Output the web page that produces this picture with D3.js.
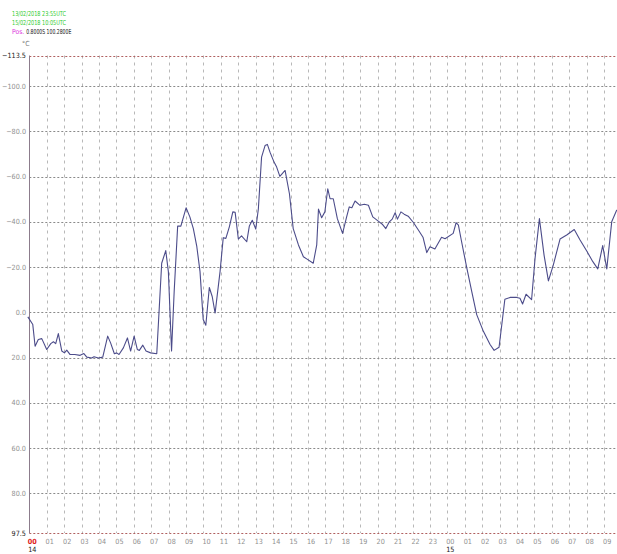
<!DOCTYPE html>
<html>
<head>
<meta charset="utf-8">
<script src="https://cdn.jsdelivr.net/npm/d3@7"></script>
<style>
  html, body { margin: 0; padding: 0; background: #ffffff; }
  svg { display: block; }
  text { font-family: "Liberation Sans Narrow", "DejaVu Sans Condensed", sans-serif; }
</style>
</head>
<body>
<svg id="chart" width="617" height="554"></svg>
<script>
// Header text
const headerLines = ["13/02/2018 23:55UTC", "15/02/2018 10:05UTC"];
const posLabel = "Pos.";
const posValue = "0.8000S 100.2800E";
const unitLabel = "\u00B0C";

// Observation times (UTC) and temperature readings
const times = [
  "2018-02-13T23:55", "2018-02-14T00:12", "2018-02-14T00:20", "2018-02-14T00:31", "2018-02-14T00:43",
  "2018-02-14T01:00", "2018-02-14T01:14", "2018-02-14T01:23", "2018-02-14T01:31", "2018-02-14T01:40",
  "2018-02-14T01:52", "2018-02-14T02:01", "2018-02-14T02:09", "2018-02-14T02:20", "2018-02-14T02:37",
  "2018-02-14T02:55", "2018-02-14T03:08", "2018-02-14T03:18", "2018-02-14T03:35", "2018-02-14T03:43",
  "2018-02-14T03:58", "2018-02-14T04:13", "2018-02-14T04:30", "2018-02-14T04:40", "2018-02-14T04:53",
  "2018-02-14T05:01", "2018-02-14T05:09", "2018-02-14T05:24", "2018-02-14T05:38", "2018-02-14T05:49",
  "2018-02-14T06:01", "2018-02-14T06:12", "2018-02-14T06:19", "2018-02-14T06:31", "2018-02-14T06:42",
  "2018-02-14T06:58", "2018-02-14T07:19", "2018-02-14T07:36", "2018-02-14T07:50", "2018-02-14T07:59",
  "2018-02-14T08:10", "2018-02-14T08:19", "2018-02-14T08:31", "2018-02-14T08:42", "2018-02-14T09:00",
  "2018-02-14T09:13", "2018-02-14T09:25", "2018-02-14T09:37", "2018-02-14T09:48", "2018-02-14T09:59",
  "2018-02-14T10:08", "2018-02-14T10:20", "2018-02-14T10:30", "2018-02-14T10:40", "2018-02-14T10:57",
  "2018-02-14T11:08", "2018-02-14T11:17", "2018-02-14T11:29", "2018-02-14T11:41", "2018-02-14T11:49",
  "2018-02-14T12:00", "2018-02-14T12:11", "2018-02-14T12:29", "2018-02-14T12:38", "2018-02-14T12:48",
  "2018-02-14T13:00", "2018-02-14T13:09", "2018-02-14T13:20", "2018-02-14T13:32", "2018-02-14T13:40",
  "2018-02-14T13:49", "2018-02-14T14:03", "2018-02-14T14:12", "2018-02-14T14:23", "2018-02-14T14:41",
  "2018-02-14T14:56", "2018-02-14T15:09", "2018-02-14T15:27", "2018-02-14T15:44", "2018-02-14T15:58",
  "2018-02-14T16:18", "2018-02-14T16:30", "2018-02-14T16:36", "2018-02-14T16:47", "2018-02-14T16:58",
  "2018-02-14T17:08", "2018-02-14T17:16", "2018-02-14T17:27", "2018-02-14T17:41", "2018-02-14T17:59",
  "2018-02-14T18:13", "2018-02-14T18:22", "2018-02-14T18:31", "2018-02-14T18:42", "2018-02-14T18:59",
  "2018-02-14T19:14", "2018-02-14T19:28", "2018-02-14T19:43", "2018-02-14T20:02", "2018-02-14T20:17",
  "2018-02-14T20:28", "2018-02-14T20:40", "2018-02-14T20:50", "2018-02-14T21:00", "2018-02-14T21:08",
  "2018-02-14T21:20", "2018-02-14T21:31", "2018-02-14T21:45", "2018-02-14T22:03", "2018-02-14T22:20",
  "2018-02-14T22:36", "2018-02-14T22:49", "2018-02-14T23:00", "2018-02-14T23:17", "2018-02-14T23:40",
  "2018-02-14T23:52", "2018-02-15T00:20", "2018-02-15T00:30", "2018-02-15T00:38", "2018-02-15T00:49",
  "2018-02-15T01:07", "2018-02-15T01:24", "2018-02-15T01:41", "2018-02-15T02:04", "2018-02-15T02:27",
  "2018-02-15T02:41", "2018-02-15T02:58", "2018-02-15T03:18", "2018-02-15T03:36", "2018-02-15T03:59",
  "2018-02-15T04:10", "2018-02-15T04:19", "2018-02-15T04:31", "2018-02-15T04:50", "2018-02-15T05:02",
  "2018-02-15T05:17", "2018-02-15T05:33", "2018-02-15T05:48", "2018-02-15T06:05", "2018-02-15T06:28",
  "2018-02-15T06:51", "2018-02-15T07:17", "2018-02-15T07:37", "2018-02-15T08:00", "2018-02-15T08:21",
  "2018-02-15T08:38", "2018-02-15T08:55", "2018-02-15T09:09", "2018-02-15T09:26", "2018-02-15T09:43",
  "2018-02-15T10:05"
];
const values = [
  2.0, 5.4, 15.0, 12.0, 11.6,
  16.4, 13.8, 13.0, 13.8, 9.4,
  17.1, 17.9, 16.7, 18.6, 18.6,
  19.0, 18.2, 19.8, 20.2, 19.6,
  20.2, 19.8, 10.5, 13.5, 18.3,
  17.9, 18.6, 15.7, 11.3, 17.1,
  10.5, 16.4, 16.8, 14.5, 17.1,
  17.9, 18.3, -21.7, -27.3, -18.0,
  17.1, -9.2, -38.1, -38.1, -46.2,
  -42.2, -37.0, -29.0, -18.0, 3.2,
  5.7, -11.0, -7.0, 0.3, -18.0,
  -33.0, -32.7, -37.8, -44.4, -44.2,
  -32.4, -33.8, -31.2, -38.2, -40.7,
  -36.8, -45.8, -68.6, -73.7, -74.2,
  -70.8, -66.4, -64.2, -60.1, -62.7,
  -52.4, -37.0, -29.8, -24.6, -23.4,
  -21.7, -29.8, -45.6, -41.8, -44.4,
  -54.6, -50.2, -50.2, -41.4, -34.9,
  -42.2, -46.6, -46.2, -49.2, -47.3,
  -47.8, -47.3, -42.2, -40.3, -38.8,
  -37.0, -40.0, -41.2, -44.0, -41.2,
  -44.4, -43.4, -42.5, -39.7, -36.4,
  -33.2, -26.4, -29.0, -28.0, -33.2,
  -32.5, -34.9, -39.6, -38.5, -31.2,
  -19.5, -9.2, 1.0, 8.4, 14.2,
  16.8, 15.4, -5.8, -6.6, -6.6,
  -6.2, -3.7, -8.0, -5.6, -23.9,
  -41.4, -25.3, -13.9, -21.0, -32.4,
  -34.2, -36.6, -32.0, -27.1, -22.4,
  -19.2, -29.5, -19.2, -40.0, -45.1,
  -46.0
];

// Axis settings
const yDomain = [-113.5, 97.5];
const yTicks = [-100, -80, -60, -40, -20, 0, 20, 40, 60, 80];
const dayLabels = [{ time: "2018-02-14T00:00", label: "14" }, { time: "2018-02-15T00:00", label: "15" }];
const timeStart = "2018-02-13T23:55";
const timeEnd = "2018-02-15T10:05";

const parse = d3.timeParse("%Y-%m-%dT%H:%M");
const data = times.map((t, i) => ({ t: parse(t), v: values[i] }));

const W = 617, H = 554;
const plotLeft = 29.3;
const pxPerHour = 17.42;
const plotTop = 55.5, plotBottom = 533;

const t0 = parse(timeStart), t1 = parse(timeEnd);
const x = d3.scaleTime()
  .domain([t0, t1])
  .range([plotLeft - (5 / 60) * pxPerHour, plotLeft + ((t1 - t0) / 3600000 - 5 / 60) * pxPerHour]);
const y = d3.scaleLinear().domain(yDomain).range([plotTop, plotBottom]);

const svg = d3.select("#chart");

// Header block: period and position
const header = svg.append("g");
headerLines.forEach((s, i) => {
  header.append("text")
    .attr("x", 12).attr("y", 15.5 + i * 9)
    .attr("font-size", 6.8).attr("fill", "#33cc33")
    .attr("textLength", 54).attr("lengthAdjust", "spacingAndGlyphs")
    .text(s);
});
const pos = header.append("text").attr("x", 12).attr("y", 33.5).attr("font-size", 6.8);
pos.append("tspan").attr("fill", "#dd33dd").text(posLabel + " ");
pos.append("tspan").attr("fill", "#222222")
  .attr("textLength", 45).attr("lengthAdjust", "spacingAndGlyphs")
  .text(posValue);
header.append("text")
  .attr("x", 22).attr("y", 46).attr("font-size", 7).attr("fill", "#777777")
  .text(unitLabel);

const plotRight = W;

// Vertical hour grid lines
const hours = d3.timeHour.range(parse("2018-02-14T00:00"), parse("2018-02-15T10:00"));
svg.append("g")
  .selectAll("line")
  .data(hours.slice(1))
  .join("line")
  .attr("x1", d => Math.round(x(d)) + 0.5).attr("x2", d => Math.round(x(d)) + 0.5)
  .attr("y1", plotTop).attr("y2", plotBottom)
  .attr("stroke", "#b8b8b8").attr("stroke-width", 1)
  .attr("stroke-dasharray", "3,4");

// Horizontal value grid lines
svg.append("g")
  .selectAll("line")
  .data(yTicks)
  .join("line")
  .attr("x1", plotLeft).attr("x2", plotRight)
  .attr("y1", d => Math.round(y(d)) + 0.5).attr("y2", d => Math.round(y(d)) + 0.5)
  .attr("stroke", "#8a8a8a").attr("stroke-width", 1)
  .attr("stroke-dasharray", "2,2");

// Frame lines at the domain limits
svg.append("g")
  .selectAll("line")
  .data(yDomain)
  .join("line")
  .attr("x1", plotLeft).attr("x2", plotRight)
  .attr("y1", d => Math.round(y(d)) + 0.5).attr("y2", d => Math.round(y(d)) + 0.5)
  .attr("stroke", "#b06060").attr("stroke-width", 1)
  .attr("stroke-dasharray", "2,2");

// Left axis line
svg.append("line")
  .attr("x1", Math.round(plotLeft) + 0.5).attr("x2", Math.round(plotLeft) + 0.5)
  .attr("y1", plotTop).attr("y2", plotBottom)
  .attr("stroke", "#8c7c8c").attr("stroke-width", 1);

// Y axis labels
const yLabels = [yDomain[0], ...yTicks, yDomain[1]];
svg.append("g")
  .selectAll("text")
  .data(yLabels)
  .join("text")
  .attr("x", 26).attr("y", d => y(d) + 2.5)
  .attr("text-anchor", "end")
  .attr("font-size", 7.2)
  .attr("fill", d => (d === yDomain[0] || d === yDomain[1]) ? "#222222" : "#909090")
  .text(d => d3.format(".1f")(d));

// X axis hour labels
svg.append("g")
  .selectAll("text")
  .data(hours)
  .join("text")
  .attr("x", d => x(d) + 3)
  .attr("y", 544)
  .attr("text-anchor", "middle")
  .attr("font-size", 7.2)
  .attr("font-weight", (d, i) => i === 0 ? "bold" : "normal")
  .attr("fill", (d, i) => i === 0 ? "#e02020" : "#909090")
  .text(d => d3.timeFormat("%H")(d));

// Day labels
svg.append("g")
  .selectAll("text")
  .data(dayLabels)
  .join("text")
  .attr("x", d => x(parse(d.time)) + 3)
  .attr("y", 552)
  .attr("text-anchor", "middle")
  .attr("font-size", 7.2)
  .attr("fill", "#222222")
  .text(d => d.label);

// Temperature series
const line = d3.line().x(d => x(d.t)).y(d => y(d.v));
svg.append("path")
  .datum(data)
  .attr("d", line)
  .attr("fill", "none")
  .attr("stroke", "#4c4c8a")
  .attr("stroke-width", 1.1)
  .attr("stroke-linejoin", "round");
</script>
</body>
</html>
